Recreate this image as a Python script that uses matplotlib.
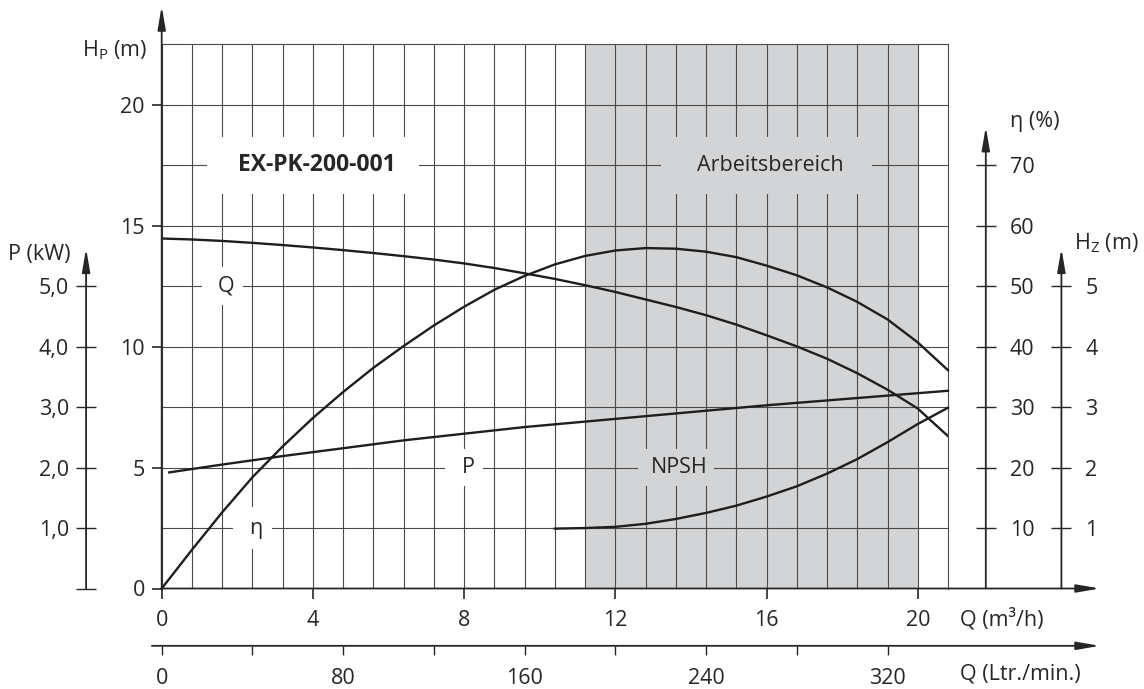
import matplotlib
matplotlib.use('Agg')
import matplotlib.pyplot as plt
from matplotlib.patches import Rectangle
import numpy as np

plt.rcParams['font.family'] = ['Open Sans', 'DejaVu Sans']
plt.rcParams['mathtext.fontset'] = 'custom'
plt.rcParams['mathtext.rm'] = 'Open Sans'
plt.rcParams['mathtext.it'] = 'Open Sans'
plt.rcParams['font.size'] = 15.5

# ---- data (flow Q in m3/h) ----
q_head = [0, 0.8, 1.6, 2.4, 3.2, 4.0, 4.8, 5.6, 6.4, 7.2, 8.0, 8.8, 9.6, 10.4,
          11.2, 12.0, 12.8, 13.6, 14.4, 15.2, 16.0, 16.8, 17.6, 18.4, 19.2, 20.0, 20.8]
head = [14.47, 14.43, 14.37, 14.29, 14.2, 14.1, 13.99, 13.87, 13.74, 13.6, 13.44, 13.25, 13.03, 12.8,
        12.54, 12.26, 11.95, 11.64, 11.3, 10.91, 10.47, 10.01, 9.5, 8.9, 8.22, 7.44, 6.3]

q_eta = [0, 0.8, 1.6, 2.4, 3.2, 4.0, 4.8, 5.6, 6.4, 7.2, 8.0, 8.8, 9.6, 10.4,
         11.2, 12.0, 12.8, 13.6, 14.4, 15.2, 16.0, 16.8, 17.6, 18.4, 19.2, 20.0, 20.8]
eta = [0, 6.4, 12.6, 18.4, 23.5, 28.2, 32.5, 36.5, 40.1, 43.5, 46.6, 49.4, 51.7, 53.6,
       55.0, 55.9, 56.3, 56.2, 55.7, 54.8, 53.4, 51.8, 49.8, 47.4, 44.5, 40.7, 36.1]

q_power = [0.2, 1.6, 3.2, 4.8, 6.4, 8.0, 9.6, 11.2, 12.8, 14.4, 16.0, 17.6, 19.2, 20.8]
power = [1.92, 2.05, 2.19, 2.32, 2.45, 2.56, 2.67, 2.76, 2.85, 2.94, 3.03, 3.11, 3.19, 3.27]

q_npsh = [10.4, 11.2, 12.0, 12.8, 13.6, 14.4, 15.2, 16.0, 16.8, 17.6, 18.4, 19.2, 20.0, 20.8]
npsh = [0.99, 1.0, 1.02, 1.07, 1.15, 1.25, 1.37, 1.52, 1.69, 1.9, 2.14, 2.42, 2.72, 2.99]

work_range = [11.2, 20.0]

q_ticks = [0, 4, 8, 12, 16, 20]
hp_ticks = [0, 5, 10, 15, 20]
eta_ticks = [10, 20, 30, 40, 50, 60, 70]
hz_ticks = [1, 2, 3, 4, 5]
p_ticks = [0, 1, 2, 3, 4, 5]
p_labels = ['', '1,0', '2,0', '3,0', '4,0', '5,0']
lpm_ticks = [0, 40, 80, 120, 160, 200, 240, 280, 320]
lpm_labels = ['0', '', '80', '', '160', '', '240', '', '320']

# in-chart labels: text, Q, H, half width (Q), half height (H), bold
labels = [
    ('EX-PK-200-001', 4.0, 17.5, 2.8, 1.18, True),
    ('Arbeitsbereich', 16.0, 17.5, 2.8, 1.18, False),
    ('Q', 1.6, 12.5, 0.54, 0.79, False),
    ('P', 8.0, 5.0, 0.5, 0.77, False),
    ('η', 2.4, 2.5, 0.52, 0.86, False),
    ('NPSH', 13.6, 5.0, 1.0, 0.77, False),
]

INK = '#262626'
GRID = '#4a4a4a'
SHADE = '#d3d4d6'
CURVE = '#1e1e1e'

W, H = 1144, 689
x0, x1 = 161.7, 948.0
y0, y1 = 588.5, 44.3
fig = plt.figure(figsize=(W / 100, H / 100), dpi=100)
ax = fig.add_axes([x0 / W, (H - y0) / H, (x1 - x0) / W, (y0 - y1) / H])
ax.set_xlim(0, 20.8)
ax.set_ylim(0, 22.5)

# grid
ax.set_xticks(q_ticks)
ax.set_yticks(hp_ticks)
ax.set_xticks(np.arange(0, 20.8, 0.8), minor=True)
ax.set_yticks(np.arange(0, 22.5, 2.5), minor=True)
ax.set_axisbelow(True)
ax.grid(which='both', color=GRID, lw=0.8)
ax.tick_params(which='minor', length=0)
ax.tick_params(which='major', direction='out', length=7.2, width=1.2,
               color=INK, labelcolor=INK)
ax.tick_params(axis='x', pad=8.5)
ax.tick_params(axis='y', pad=5)
for s in ['left', 'bottom']:
    ax.spines[s].set_visible(False)
for s in ['top', 'right']:
    ax.spines[s].set_color(GRID)
    ax.spines[s].set_linewidth(0.8)

ax.axvspan(work_range[0], work_range[1], color=SHADE, lw=0, zorder=0.2)

for txt, qx, hy, hw, hh, bold in labels:
    fc = SHADE if work_range[0] <= qx <= work_range[1] else 'white'
    ax.add_patch(Rectangle((qx - hw, hy - hh), 2 * hw, 2 * hh, fc=fc, ec='none', zorder=1))
    ax.text(qx + 0.1, hy, txt, ha='center', va='center', color=INK, zorder=3,
            fontweight='bold' if bold else 'normal', fontsize=16.5 if bold else None)

# curves on their own scales
ax.plot(q_head, head, color=CURVE, lw=1.7, zorder=4)

ax_eta = ax.twinx()
ax_eta.set_ylim(0, 90)
ax_eta.plot(q_eta, eta, color=CURVE, lw=1.7, clip_on=False)

ax_hz = ax.twinx()
ax_hz.set_ylim(0, 9)
ax_hz.plot(q_npsh, npsh, color=CURVE, lw=1.7, clip_on=False)

ax_p = ax.twinx()
ax_p.set_ylim(0, 9)
ax_p.plot(q_power, power, color=CURVE, lw=1.7, clip_on=False)

# extra scales
eta_pos, hz_pos, p_pos = 21.8, 23.8, -2.0
for a, pos, ticks in [(ax_eta, eta_pos, eta_ticks), (ax_hz, hz_pos, hz_ticks)]:
    for s in a.spines.values():
        s.set_visible(False)
    a.spines['right'].set_position(('data', pos))
    a.set_yticks(ticks)
    a.tick_params(axis='y', direction='inout', length=14.4, width=1.0,
                  pad=10, color=INK, labelcolor=INK)

for s in ax_p.spines.values():
    s.set_visible(False)
ax_p.yaxis.tick_left()
ax_p.spines['left'].set_position(('data', p_pos))
ax_p.set_yticks(p_ticks, p_labels)
ax_p.tick_params(axis='y', direction='inout', length=14.4, width=1.0,
                 pad=5, color=INK, labelcolor=INK)

lpm_h = -2.37
sec = ax.secondary_xaxis(lpm_h / 22.5, functions=(lambda q: q * 1000 / 60, lambda l: l * 60 / 1000))
sec.spines['bottom'].set_visible(False)
sec.set_xticks(lpm_ticks, lpm_labels)
sec.set_xticks([0], minor=True)
sec.tick_params(which='major', direction='out', length=6.8, width=1.0, pad=9,
                color=INK, labelcolor=INK)
sec.tick_params(which='minor', direction='in', length=6.8, width=1.0, color=INK)

# axis lines with arrows (in Q / H_P units)
arrow = dict(arrowstyle='-|>,head_length=0.7,head_width=0.12', mutation_scale=20,
             color=INK, lw=1.3, shrinkA=0, shrinkB=0)
axis_lines = [
    ((0, 0), (0, 24.08)),
    ((0, 0), (24.82, 0)),
    ((-0.26, lpm_h), (24.82, lpm_h)),
    ((eta_pos, 0), (eta_pos, 19.09)),
    ((hz_pos, 0), (hz_pos, 14.06)),
    ((p_pos, 0), (p_pos, 14.06)),
]
for start, end in axis_lines:
    ax.annotate('', xy=end, xytext=start, xycoords='data', textcoords='data',
                arrowprops=arrow, annotation_clip=False)

ax.text(-0.39, 22.27, 'H$_\\mathrm{P}$ (m)', ha='right', va='center', color=INK, clip_on=False)
ax.text(-2.41, 13.79, 'P (kW)', ha='right', va='center', color=INK, clip_on=False)
ax.text(22.44, 19.3, 'η (%)', ha='left', va='center', color=INK, clip_on=False)
ax.text(24.12, 14.27, 'H$_\\mathrm{Z}$ (m)', ha='left', va='center', color=INK, clip_on=False)
ax.text(21.12, -1.27, 'Q (m³/h)', ha='left', va='center', color=INK, clip_on=False)
ax.text(21.12, -3.55, 'Q (Ltr./min.)', ha='left', va='center', color=INK, clip_on=False)

fig.savefig('out.png', dpi=100)
